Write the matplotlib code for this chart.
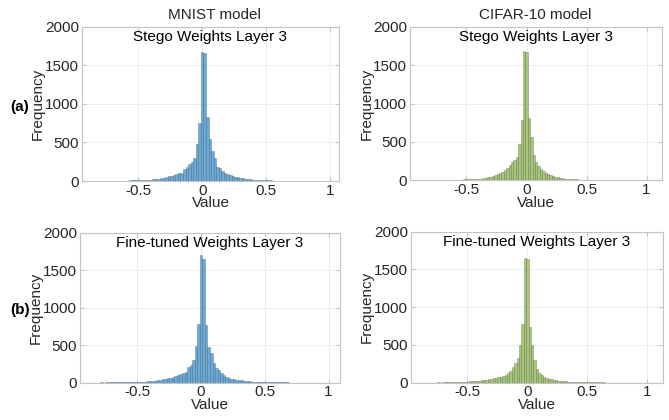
import numpy as np
import matplotlib
matplotlib.use('Agg')
import matplotlib.pyplot as plt

plt.rcParams['font.family'] = ['Liberation Sans', 'DejaVu Sans']
plt.rcParams['font.size'] = 11

# histogram bins (width 0.02)
edges = np.round(np.linspace(-0.87, 1.01, 95), 2)

# counts per bin
mnist_stego = [1, 2, 1, 2, 3, 2, 3, 3,
               3, 4, 4, 5, 5, 6, 6, 7, 8, 9,
               10, 11, 13, 14, 16, 19, 22, 26, 31, 37,
               44, 52, 60,
               66, 72, 87, 100, 108, 152, 178, 217, 251, 294, 480, 758,
               1672, 1665,
               827, 550, 390, 294, 186, 165, 134, 108, 91, 78, 65,
               55, 48, 40, 33, 28, 24, 20, 17, 15, 13,
               11, 10, 8, 9, 7, 6, 5, 5, 4, 4,
               3, 3, 2, 3, 2, 2, 1, 2, 1, 1,
               2, 1, 1, 1, 1, 0, 1, 1]

cifar_stego = [1, 1, 2, 2, 2, 3, 2, 3,
               3, 3, 4, 4, 5, 5, 6, 7, 8, 9,
               9, 10, 11, 13, 15, 18, 21, 25, 30, 36,
               43, 52, 64, 75, 90, 108, 130, 160, 196, 239, 261, 304, 478, 783,
               1682, 1678,
               805, 565, 326, 239, 183, 152, 122, 96, 78, 65,
               52, 43, 35, 29, 24, 20, 17, 14, 12, 10,
               9, 8, 7, 6, 6, 5, 4, 4, 3, 3,
               3, 2, 2, 2, 1, 2, 1, 1, 1, 1,
               1, 1, 0, 1, 1, 0, 1, 0, 1, 1]

mnist_fine = [1, 2, 2, 1, 3, 2, 3, 3,
              4, 3, 5, 4, 6, 5, 7, 6, 8, 9,
              10, 12, 13, 15, 17, 20, 24, 28, 33, 39,
              44, 50, 58, 67, 78, 89, 100, 111, 130, 147, 210, 235, 302, 488, 782,
              1700, 1655,
              768, 480, 391, 266, 191, 169, 133, 102, 80, 67,
              53, 45, 40, 35, 30, 26, 22, 19, 16, 14,
              12, 11, 10, 12, 13, 9, 7, 6, 5, 4,
              4, 3, 3, 2, 2, 2, 1, 2, 1, 1,
              1, 1, 1, 0, 1, 1, 0, 1, 1]

cifar_fine = [1, 1, 2, 1, 2, 2, 3, 2,
              3, 3, 4, 5, 6, 7, 8, 10, 11, 13,
              15, 17, 19, 21, 24, 26, 30, 34, 40, 46,
              53, 58, 66, 72, 80, 88, 100, 124, 160, 203, 256, 322, 498, 776,
              1657, 1633,
              732, 498, 300, 176, 123, 101, 79, 66, 53, 44,
              38, 33, 28, 24, 20, 17, 15, 13, 11, 10,
              9, 8, 7, 6, 6, 5, 5, 4, 4, 3,
              3, 3, 2, 2, 2, 1, 2, 1, 1, 1,
              1, 1, 1, 0, 1, 1, 0, 1, 0, 1]

blue = '#66abda'
green = '#a6c877'
txt = '#262626'

fig = plt.figure(figsize=(6.69, 4.2), dpi=100)

panels = [
    ([0.1226, 0.569, 0.384, 0.367], mnist_stego, blue, 'Stego Weights Layer 3', (-0.94, 1.07)),
    ([0.613, 0.571, 0.3767, 0.365], cifar_stego, green, 'Stego Weights Layer 3', (-0.97, 1.13)),
    ([0.1196, 0.0888, 0.3886, 0.357], mnist_fine, blue, 'Fine-tuned Weights Layer 3', (-0.95, 1.09)),
    ([0.6143, 0.0888, 0.3767, 0.3595], cifar_fine, green, 'Fine-tuned Weights Layer 3', (-0.97, 1.13)),
]

for rect, counts, col, title, xl in panels:
    assert len(counts) == len(edges) - 1
    ax = fig.add_axes(rect)
    ax.hist(edges[:-1], bins=edges, weights=counts, color=col,
            edgecolor=(0.1, 0.1, 0.1, 0.4), linewidth=0.4)
    ax.set_xlim(*xl)
    ax.set_ylim(0, 2000)
    ax.set_xticks([-0.5, 0, 0.5, 1])
    ax.set_xticklabels(['-0.5', '0', '0.5', '1'])
    ax.set_yticks([0, 500, 1000, 1500, 2000])
    ax.grid(True, color='#ececec', linewidth=0.7)
    ax.set_axisbelow(True)
    for s in ax.spines.values():
        s.set_color('#c4c4c4')
        s.set_linewidth(0.8)
    ax.tick_params(direction='in', length=3, color='#c4c4c4', labelcolor=txt,
                   top=True, right=True, pad=2)
    ax.set_xlabel('Value', color=txt, labelpad=-1)
    ax.set_ylabel('Frequency', color=txt, labelpad=0)
    ax.text(0.5, 0.935, title, transform=ax.transAxes, ha='center', va='center',
            color='black')

fig.text(214 / 669, 1 - 15 / 420, 'MNIST model', ha='center', va='center', color=txt)
fig.text(535 / 669, 1 - 15 / 420, 'CIFAR-10 model', ha='center', va='center', color=txt)
fig.text(20 / 669, 1 - 107 / 420, '(a)', ha='center', va='center', fontweight='bold')
fig.text(20 / 669, 1 - 310 / 420, '(b)', ha='center', va='center', fontweight='bold')

fig.savefig('out.png', dpi=100)
